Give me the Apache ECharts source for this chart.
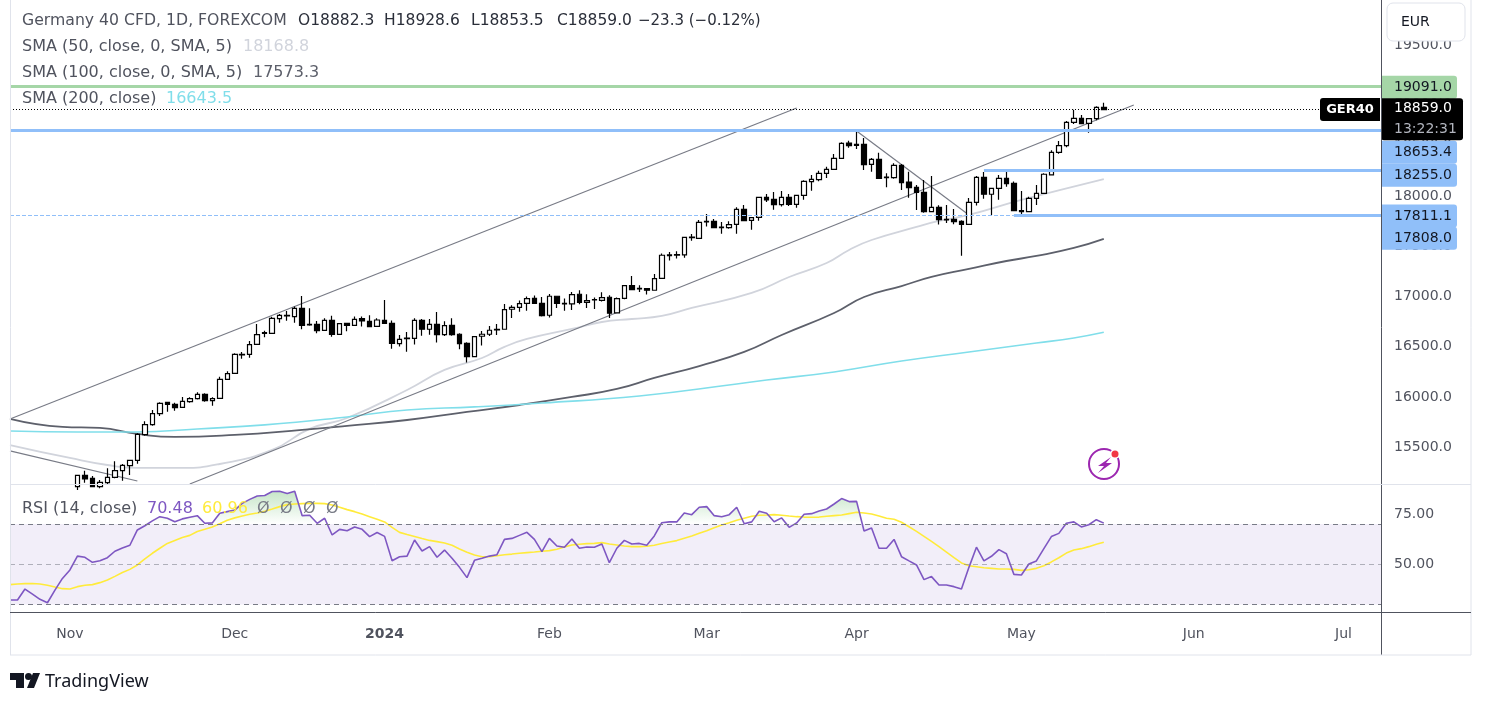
<!DOCTYPE html>
<html>
<head>
<meta charset="utf-8">
<style>
  html, body { margin: 0; padding: 0; background: #fff; }
  #main { width: 1486px; height: 708px; }
</style>
<script src="https://cdn.jsdelivr.net/npm/echarts@6/dist/echarts.min.js"></script>
</head>
<body>
<div id="main"></div>
<script>
// first visible daily bar, the ones before it sit below the price pane
const firstBar = 9;
const barCount = 184;

const opens = [
  15107,15220,15190,15107,15147,15200,15267,15316,15369,15625,
  15724,15834,15947,15927,15897,15953,15983,16026,15963,15986,
  16175,16235,16418,16424,16524,16633,16633,16779,16806,16799,
  16882,16723,16723,16663,16763,16623,16733,
  16713,16780,16753,16703,16763,16733,16531,16581,16584,16763,
  16674,16723,16620,16713,16624,16534,16402,16604,16624,16674,
  16674,16873,16892,16932,16982,16932,16813,17002,16926,16926,
  17022,16942,16965,16962,16992,16836,16982,17108,17075,17078,
  17062,17181,17407,17410,
  17413,17585,17578,17741,17748,17685,17685,17718,17867,17758,
  17787,17986,17967,17913,17986,17917,18006,18142,18162,18225,
  18265,18375,18527,18514,18514,18315,18365,18182,18182,18305,
  18139,18086,18036,17844,17887,17761,17768,17748,17718,17937,
  18186,18017,18076,18176,18126,17844,17844,17977,18026,18209,
  18434,18501,18733,18773,18723,18769,18882.3
];
const closes = [
  15220,15184,15107,15151,15200,15267,15320,15369,15628,15724,
  15834,15937,15927,15894,15957,15983,16026,15963,15983,16175,
  16232,16424,16424,16520,16620,16640,16783,16812,16812,16882,
  16713,16716,16660,16763,16623,16729,16713,
  16773,16756,16700,16766,16733,16534,16574,16587,16763,16674,
  16723,16620,16710,16620,16531,16402,16601,16624,16664,16667,
  16869,16892,16929,16979,16932,16810,17002,16932,16932,17019,
  16942,16959,16969,16989,16833,16979,17108,17068,17082,17062,
  17178,17410,17413,17417,
  17588,17592,17738,17748,17685,17691,17714,17867,17754,17784,
  17986,17960,17913,17986,17917,18006,18146,18166,18225,18265,
  18375,18524,18501,18504,18312,18365,18176,18189,18305,18132,
  18083,18036,17844,17887,17764,17768,17745,17718,17937,18186,
  18017,18076,18176,18123,17854,17854,17977,18026,18216,18434,
  18501,18733,18773,18720,18769,18882,18859
];
const highs = [
  15220,15267,15214,15174,15290,15360,15333,15369,15638,15758,
  15870,15947,15947,15943,16000,15996,16046,16036,15996,16202,
  16255,16434,16448,16557,16726,16660,16799,16826,16855,16899,
  17005,16882,16756,16783,16809,16733,16733,
  16800,16800,16813,16783,16965,16760,16617,16647,16783,16776,
  16776,16846,16753,16783,16634,16544,16607,16657,16707,16727,
  16926,16912,16959,16999,17009,16995,17025,17005,16979,17045,
  17062,17022,16989,17042,17012,16989,17115,17204,17111,17085,
  17224,17427,17443,17450,
  17595,17622,17761,17821,17771,17741,17748,17887,17910,17787,
  17993,18020,18040,18049,18020,18010,18156,18209,18252,18292,
  18418,18534,18550,18650,18577,18378,18431,18225,18325,18318,
  18242,18109,18159,18199,17907,17910,17871,17758,17980,18199,
  18239,18083,18209,18239,18143,18050,17993,18109,18226,18454,
  18547,18746,18859,18806,18773,18892,18928.6
];
const lows = [
  15074,15147,15107,15091,15134,15190,15167,15224,15336,15615,
  15714,15811,15854,15864,15894,15943,15976,15953,15913,15986,
  16175,16235,16381,16391,16524,16593,16633,16739,16759,16739,
  16673,16709,16633,16660,16600,16620,16653,
  16707,16700,16693,16697,16727,16481,16501,16451,16521,16610,
  16620,16541,16607,16610,16475,16342,16402,16511,16607,16617,
  16674,16786,16849,16859,16926,16800,16790,16886,16859,16866,
  16922,16886,16876,16949,16786,16833,16972,17062,17045,17019,
  17062,17181,17357,17377,
  17386,17555,17575,17695,17681,17625,17675,17625,17748,17665,
  17754,17940,17864,17894,17900,17884,17963,18053,18146,18179,
  18265,18375,18481,18467,18258,18242,18169,18086,18172,18059,
  17983,17860,17834,17844,17715,17731,17718,17406,17718,17904,
  17973,17811,17963,18093,17847,17821,17844,17910,18023,18206,
  18421,18484,18716,18713,18630,18753,18853.5
];

// moving averages as [bar, price]
const sma50 = [[0,15522],[8,15393],[13,15323],[17,15294],[23,15294],[28,15333],[35,15473],[40,15682],[45,15791],[53,16070],[58,16269],[63,16388],[66,16498],[69,16577],[75,16677],[79,16746],[83,16776],[87,16806],[91,16886],[99,17035],[104,17194],[109,17333],[112,17463],[115,17562],[121,17692],[124,17751],[128,17811],[135,17960],[146,18168.8]];
const sma100 = [[0,15781],[7,15702],[12,15692],[17,15632],[22,15602],[30,15622],[39,15672],[45,15712],[53,15771],[61,15851],[68,15920],[75,16000],[81,16080],[86,16189],[92,16308],[98,16448],[103,16617],[110,16836],[114,16995],[119,17104],[123,17194],[128,17274],[133,17353],[137,17403],[142,17483],[146,17573.3]];
const sma200 = [[0,15662],[9,15652],[17,15652],[25,15682],[34,15722],[45,15801],[53,15871],[62,15901],[71,15940],[84,16010],[97,16129],[101,16169],[110,16249],[119,16358],[128,16448],[137,16537],[142,16587],[146,16643.5]];

const trendUpper = [[0,15781],[105,18876]];
const trendLower = [[24,15134],[150,18905]];
const trendOld = [[0,15463],[17,15164]];
const trendDrop = [[113,18647],[128,17811]];

const rsiValues = [
  32.3,32.3,37.7,35.2,32.6,30.9,37.2,43.0,47.2,54.1,
  53.5,51.0,51.8,53.3,56.5,58.1,59.5,67.1,69.2,71.6,
  73.7,72.9,71.2,72.6,73.4,74.2,70.4,70.6,75.4,76.2,
  77.0,80.3,82.3,84.0,84.2,86.2,86.3,85.2,86.3,74.2,
  74.4,70.4,72.9,64.6,67.4,66.7,68.6,67.4,63.8,65.8,
  63.9,51.8,53.8,54.1,62.1,56.6,58.8,53.5,57.1,53.0,
  48.5,43.4,52.0,53.0,54.1,54.8,62.4,62.9,64.4,65.9,
  62.4,56.3,62.9,59.1,
  58.5,62.6,58.0,58.6,58.5,60.1,50.8,58.0,61.9,60.1,
  60.4,59.5,64.1,70.7,71.1,71.1,75.5,74.7,78.4,78.7,
  74.2,73.7,74.7,78.4,70.2,71.1,76.4,75.4,71.2,73.1,
  68.4,70.6,74.9,75.2,76.5,77.5,80.0,82.7,81.2,81.3,
  66.6,68.1,58.0,58.0,62.4,53.8,51.7,49.7,42.4,43.9,
  39.7,39.7,38.9,37.7,48.5,58.5,51.7,54.0,57.3,55.3,
  45.0,44.7,50.2,51.7,57.8,63.8,65.4,70.4,71.1,68.6,
  69.7,72.2,70.48
];
const rsiSignal = [
  39.9,40.2,40.4,40.5,40.2,39.6,38.7,37.9,37.7,38.9,
  39.6,39.9,40.9,42.2,44.0,45.9,47.5,49.7,52.7,55.5,
  58.0,60.4,61.9,63.3,64.4,66.3,67.4,68.6,70.2,71.9,
  73.1,74.0,74.9,75.5,76.4,77.5,78.7,79.7,80.0,80.2,
  80.3,80.3,80.2,79.5,78.4,77.2,76.2,75.0,73.7,72.4,
  71.1,68.4,65.9,64.8,63.8,62.8,61.9,61.3,60.6,59.5,
  57.6,56.0,54.6,53.8,53.8,54.3,54.8,55.1,55.5,55.8,
  56.1,56.5,56.8,57.5,
  58.6,59.6,60.0,60.3,60.4,60.8,60.1,59.6,59.1,58.8,
  58.8,59.0,59.5,60.4,61.1,61.8,63.0,64.1,65.4,66.7,
  68.2,69.6,70.7,71.9,72.9,73.9,74.4,74.5,74.7,74.4,
  74.0,73.7,73.5,73.4,73.5,73.9,74.2,74.5,75.2,75.9,
  75.5,75.0,74.0,72.9,72.4,70.9,68.7,66.4,63.9,61.4,
  58.8,56.1,53.3,50.7,49.3,48.8,48.3,48.0,47.7,47.7,
  47.5,47.0,47.3,48.0,49.3,51.2,53.3,55.6,57.1,57.8,
  58.8,60.0,60.96
];

const monthBars = [8, 30, 50, 72, 93, 113, 135, 158, 178];
const monthLabels = ['Nov', 'Dec', '2024', 'Feb', 'Mar', 'Apr', 'May', 'Jun', 'Jul'];
const priceTicks = [15500, 16000, 16500, 17000, 17500, 18000, 18500, 19000, 19500];
const rsiTicks = [50, 75];

const lastBar = barCount - 1;
const blue = '#90bff9';
const green = '#a5d6a7';
const textGrey = '#50535e';
const uiFont = '"DejaVu Sans", sans-serif';

const barNames = [];
for (let i = 0; i < barCount; i++) barNames.push(String(i));

const candles = [];
for (let i = 0; i < firstBar; i++) candles.push(['-', '-', '-', '-']);
opens.forEach((o, i) => candles.push([o, closes[i], lows[i], highs[i]]));

const levelLabel = (bg, text, dy) => ({
  show: true,
  position: 'end',
  distance: 0,
  offset: [0, dy + 1],
  formatter: text,
  color: '#131722',
  fontFamily: uiFont,
  fontSize: 14,
  padding: [0, 0, 0, 13],
  width: 63,
  height: 23,
  lineHeight: 23,
  align: 'left',
  backgroundColor: bg,
  borderRadius: [0, 3, 3, 0]
});

const level = (from, to, price, color, text, dy, type, width) => [
  {
    xAxis: from, yAxis: price,
    lineStyle: { color: color, width: width, type: type },
    label: text ? levelLabel(color, text, dy) : { show: false }
  },
  { xAxis: to, yAxis: price }
];

const plain = (data, color, width, smooth) => ({
  type: 'line',
  xAxisIndex: 0,
  yAxisIndex: 0,
  data: data,
  symbol: 'none',
  smooth: smooth,
  lineStyle: { color: color, width: width },
  silent: true,
  z: 3
});

const txt = (x, y, text, fill, size) => ({
  type: 'text',
  x: x,
  y: y,
  z: 50,
  style: {
    text: text,
    font: (size || 16) + 'px ' + uiFont,
    fill: fill || textGrey,
    verticalAlign: 'middle'
  }
});

const frame = [
  { x: 10.5, c: '#e0e3eb' },
  { x: 1471, c: '#e0e3eb' },
  { x: 1381.5, c: '#50535e' }
].map(l => ({
  type: 'line', z: 40,
  shape: { x1: l.x, y1: 0, x2: l.x, y2: 655 },
  style: { stroke: l.c, lineWidth: 1 }
})).concat([
  { y: 484.5, c: '#e0e3eb' },
  { y: 612.5, c: '#50535e' },
  { y: 655, c: '#e0e3eb' }
].map(l => ({
  type: 'line', z: 40,
  shape: { x1: 10, y1: l.y, x2: 1471, y2: l.y },
  style: { stroke: l.c, lineWidth: 1 }
})));

const chart = echarts.init(document.getElementById('main'));
chart.setOption({
  animation: false,
  backgroundColor: '#fff',
  textStyle: { fontFamily: uiFont },
  grid: [
    { left: 10, top: 0, width: 1371, height: 484 },
    { left: 10, top: 485, width: 1371, height: 128 }
  ],
  xAxis: [
    { type: 'category', gridIndex: 0, data: barNames, boundaryGap: false, show: false },
    {
      type: 'category', gridIndex: 1, data: barNames, boundaryGap: false,
      axisLine: { show: false },
      axisTick: { show: false },
      axisLabel: {
        interval: (index) => monthBars.indexOf(index) >= 0,
        margin: 14,
        fontSize: 14,
        color: textGrey,
        formatter: (value) => {
          const label = monthLabels[monthBars.indexOf(Number(value))];
          return label === '2024' ? '{bold|2024}' : label;
        },
        rich: { bold: { fontSize: 14, fontWeight: 'bold', color: textGrey, fontFamily: uiFont } }
      }
    }
  ],
  yAxis: [
    {
      type: 'value', gridIndex: 0, position: 'right',
      min: 15134, max: 19950,
      splitLine: { show: false },
      axisLine: { show: false },
      axisTick: { show: false },
      axisLabel: {
        customValues: priceTicks,
        margin: 11,
        padding: [2, 0, 0, 2],
        fontSize: 14,
        color: textGrey,
        formatter: (v) => v.toFixed(1)
      }
    },
    {
      type: 'value', gridIndex: 1, position: 'right',
      min: 25.8, max: 89.45,
      splitLine: { show: false },
      axisLine: { show: false },
      axisTick: { show: false },
      axisLabel: {
        customValues: rsiTicks,
        margin: 11,
        padding: [2, 0, 0, 2],
        fontSize: 14,
        color: textGrey,
        formatter: (v) => v.toFixed(2)
      }
    }
  ],
  series: [
    {
      type: 'candlestick',
      xAxisIndex: 0,
      yAxisIndex: 0,
      barWidth: 5,
      data: candles,
      z: 4,
      itemStyle: {
        color: '#fff',
        color0: '#000',
        borderColor: '#000',
        borderColor0: '#000',
        borderWidth: 1.2
      },
      markLine: {
        silent: true,
        symbol: 'none',
        animation: false,
        data: [
          level(0, lastBar, 19091, green, '19091.0', 0, 'solid', 3),
          level(0, lastBar, 18653.4, blue, '18653.4', 21, 'solid', 3),
          level(130, lastBar, 18255, blue, '18255.0', 4, 'solid', 3),
          level(134, lastBar, 17811.1, blue, '17811.1', 0, 'solid', 3),
          level(0, 134, 17808, blue, null, 0, 'dashed', 1),
          // only carries the badge of the dashed level
          level(134, lastBar, 17808, 'rgba(144,191,249,0)', '17808.0', 22, 'solid', 1).map((p, i) => {
            if (i === 0) p.label.backgroundColor = blue;
            return p;
          }),
          [
            {
              xAxis: 0, yAxis: 18859,
              lineStyle: { color: '#000', width: 1, type: [1, 2] },
              label: {
                show: true, position: 'end', distance: 0, offset: [0, 9.5],
                formatter: '{p|18859.0}\n{t|13:22:31}',
                backgroundColor: '#000',
                borderRadius: [0, 3, 3, 3],
                padding: [0, 0, 0, 13],
                width: 69,
                align: 'left',
                rich: {
                  p: { color: '#fff', fontSize: 14, fontFamily: uiFont, lineHeight: 21 },
                  t: { color: '#b2b5be', fontSize: 14, fontFamily: uiFont, lineHeight: 21 }
                }
              }
            },
            { xAxis: lastBar, yAxis: 18859 }
          ]
        ]
      }
    },
    plain(sma50, '#d1d4dc', 1.8, 0.5),
    plain(sma100, '#5d606b', 1.8, 0.5),
    plain(sma200, '#80deea', 1.6, 0.5),
    plain(trendUpper, '#787b86', 1.2),
    plain(trendLower, '#787b86', 1.2),
    plain(trendOld, '#787b86', 1.2),
    plain(trendDrop, '#787b86', 1.2),
    // overbought fill of the RSI, held at the 70 level where RSI is under it
    {
      type: 'line',
      xAxisIndex: 1,
      yAxisIndex: 1,
      data: rsiValues.map(v => Math.max(v, 70)),
      symbol: 'none',
      lineStyle: { width: 0 },
      z: 2,
      areaStyle: {
        origin: 70,
        color: new echarts.graphic.LinearGradient(0, 0, 0, 1, [
          { offset: 0, color: 'rgba(76,175,80,0.45)' },
          { offset: 1, color: 'rgba(76,175,80,0)' }
        ])
      },
      markArea: {
        silent: true,
        itemStyle: { color: 'rgba(126,87,194,0.1)' },
        data: [[{ yAxis: 30, xAxis: 0 }, { yAxis: 70, xAxis: lastBar }]]
      },
      markLine: {
        silent: true,
        symbol: 'none',
        label: { show: false },
        data: [
          { yAxis: 70, lineStyle: { color: '#787b86', width: 1, type: [5, 4] } },
          { yAxis: 50, lineStyle: { color: 'rgba(120,123,134,0.55)', width: 1, type: [5, 4] } },
          { yAxis: 30, lineStyle: { color: '#787b86', width: 1, type: [5, 4] } }
        ]
      }
    },
    {
      type: 'line', xAxisIndex: 1, yAxisIndex: 1, data: rsiSignal,
      symbol: 'none', z: 3, lineStyle: { color: '#ffeb3b', width: 1.6 }
    },
    {
      type: 'line', xAxisIndex: 1, yAxisIndex: 1, data: rsiValues,
      symbol: 'none', z: 4, lineStyle: { color: '#7e57c2', width: 1.6 }
    }
  ],
  graphic: frame.concat([
    txt(22, 21, 'Germany 40 CFD, 1D, FOREXCOM', textGrey, 15.7),
    txt(298, 21, 'O18882.3', '#2a2e39', 15.5),
    txt(384, 21, 'H18928.6', '#2a2e39', 15.5),
    txt(471, 21, 'L18853.5', '#2a2e39', 15.5),
    txt(557, 21, 'C18859.0', '#2a2e39', 15.5),
    txt(638, 21, '\u221223.3 (\u22120.12%)', '#2a2e39', 15),
    txt(22, 47, 'SMA (50, close, 0, SMA, 5)'),
    txt(243, 47, '18168.8', '#d1d4dc'),
    txt(22, 73, 'SMA (100, close, 0, SMA, 5)'),
    txt(253, 73, '17573.3', '#5d606b'),
    txt(22, 99, 'SMA (200, close)'),
    txt(166, 99, '16643.5', '#80deea'),
    txt(22, 509, 'RSI (14, close)'),
    txt(147, 509, '70.48', '#7e57c2'),
    txt(202, 509, '60.96', '#ffeb3b'),
    txt(257, 509, '\u00d8', '#787b86'),
    txt(280, 509, '\u00d8', '#787b86'),
    txt(303, 509, '\u00d8', '#787b86'),
    txt(326, 509, '\u00d8', '#787b86'),
    // currency button
    {
      type: 'rect', z: 45,
      shape: { x: 1387, y: 3, width: 78, height: 38, r: 6 },
      style: { fill: '#fff', stroke: '#e0e3eb', lineWidth: 1 }
    },
    txt(1401, 22, 'EUR', '#131722', 14),
    // symbol tag next to the last price
    {
      type: 'rect', z: 45,
      shape: { x: 1320, y: 98, width: 60, height: 23, r: [3, 0, 0, 3] },
      style: { fill: '#000' }
    },
    {
      type: 'text', x: 1350, y: 110, z: 46,
      style: { text: 'GER40', fill: '#fff', font: 'bold 13px ' + uiFont, align: 'center', verticalAlign: 'middle' }
    },
    // lightning badge
    {
      type: 'circle', z: 45,
      shape: { cx: 1104, cy: 464, r: 15 },
      style: { fill: 'none', stroke: '#9c27b0', lineWidth: 2 }
    },
    {
      type: 'polygon', z: 45,
      shape: { points: [[1111, 457], [1098, 466], [1104, 466], [1098, 473], [1112, 463], [1106, 463]] },
      style: { fill: '#9c27b0' }
    },
    {
      type: 'circle', z: 46,
      shape: { cx: 1115, cy: 454, r: 5 },
      style: { fill: '#fff' }
    },
    {
      type: 'circle', z: 47,
      shape: { cx: 1115, cy: 454, r: 3.5 },
      style: { fill: '#f23645' }
    },
    // TradingView mark
    {
      type: 'polygon', z: 45,
      shape: { points: [[10, 673], [24, 673], [24, 688], [16, 688], [16, 680], [10, 680]] },
      style: { fill: '#131722' }
    },
    {
      type: 'circle', z: 45,
      shape: { cx: 28.5, cy: 676.5, r: 3.5 },
      style: { fill: '#131722' }
    },
    {
      type: 'polygon', z: 45,
      shape: { points: [[33, 673], [40, 673], [34, 688], [27, 688]] },
      style: { fill: '#131722' }
    },
    {
      type: 'text', x: 45, y: 682, z: 45,
      style: { text: 'TradingView', fill: '#131722', font: '18px "Noto Sans", sans-serif', verticalAlign: 'middle' }
    }
  ])
});
</script>
</body>
</html>
